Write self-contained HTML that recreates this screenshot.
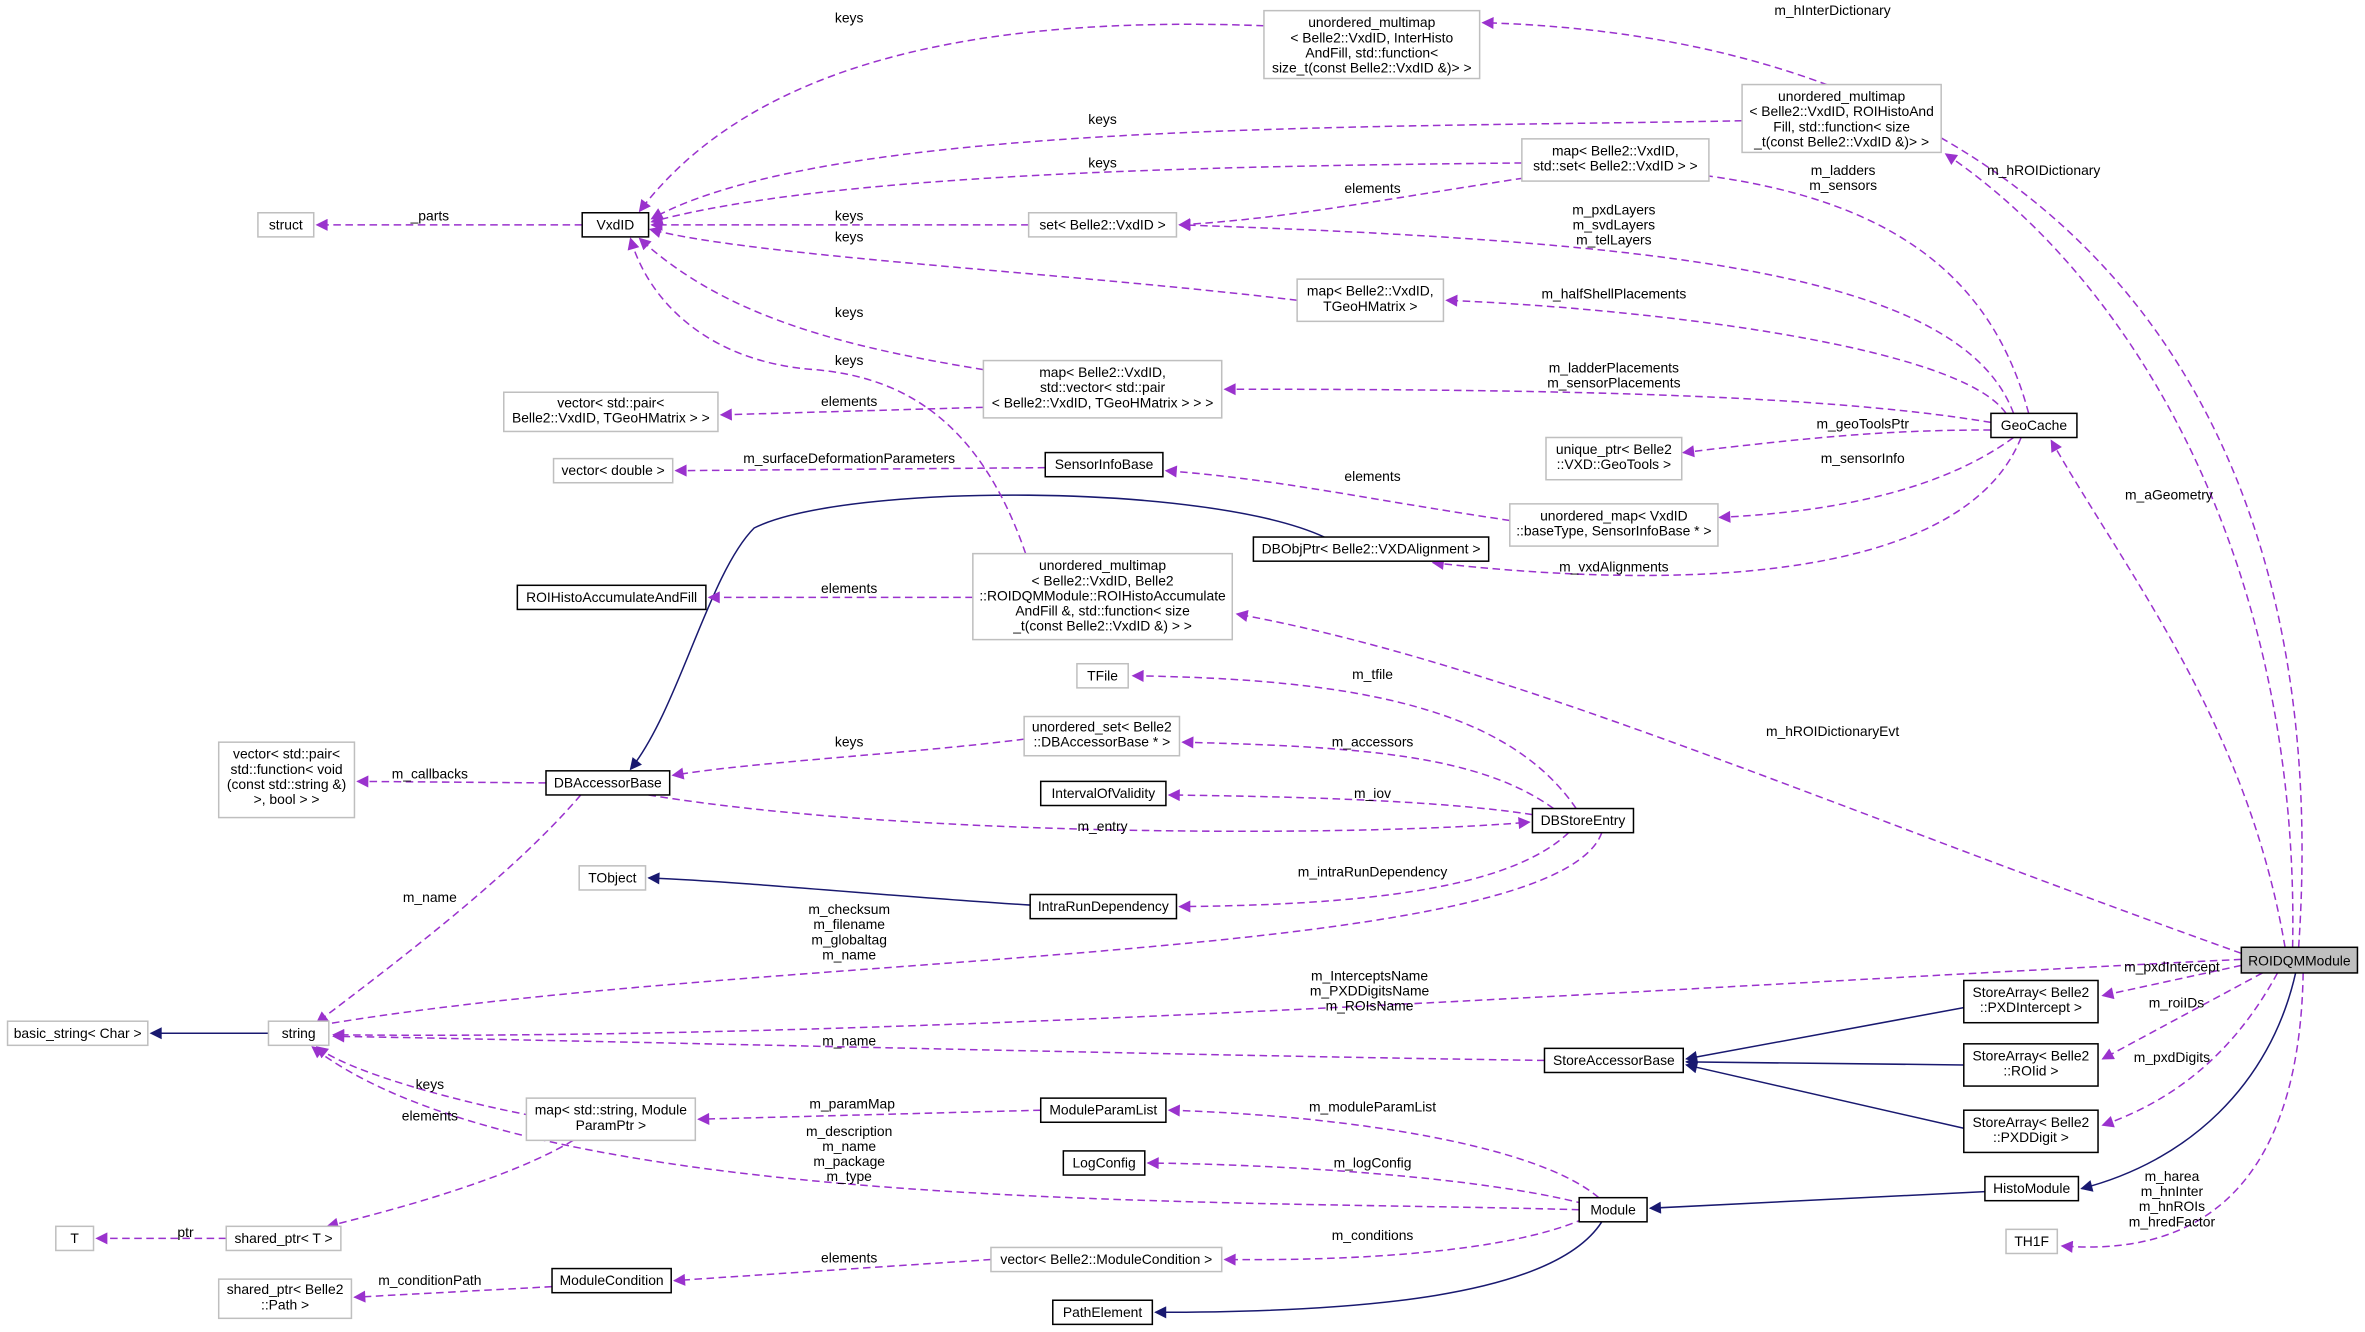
<!DOCTYPE html>
<html><head><meta charset="utf-8"><style>
html,body{margin:0;padding:0;background:#fff;}
svg{display:block;}
text{font-family:"Liberation Sans",sans-serif;font-size:9.2px;fill:#000;}
.n{fill:#fff;stroke:#000;stroke-width:1;}
.g{fill:#fff;stroke:#bfbfbf;stroke-width:1;}
.p{fill:none;stroke:#9a32cd;stroke-width:1;stroke-dasharray:5,3;marker-end:url(#ap);}
.b{fill:none;stroke:#191970;stroke-width:1;marker-end:url(#ab);}
</style></head><body>
<svg width="2365" height="1332" viewBox="0 0 1568 883" xmlns="http://www.w3.org/2000/svg">
<defs>
<marker id="ap" viewBox="0 0 10 10" refX="9" refY="5" markerWidth="9" markerHeight="8" markerUnits="userSpaceOnUse" orient="auto"><path d="M0,0 L10,5 L0,10 z" fill="#9a32cd"/></marker>
<marker id="ab" viewBox="0 0 10 10" refX="9" refY="5" markerWidth="9" markerHeight="8" markerUnits="userSpaceOnUse" orient="auto"><path d="M0,0 L10,5 L0,10 z" fill="#191970"/></marker>
</defs>

<!-- edges -->
<path class="p" d="M1524,628 C1550,250 1350,25 983,15"/>
<path class="p" d="M1520,628 C1525,380 1420,190 1290,102"/>
<path class="p" d="M1515,628 C1490,480 1410,380 1360,292"/>
<path class="p" d="M1486,632 C1200,530 1000,440 820,407"/>
<path class="p" d="M1486,640 L1394,660"/>
<path class="p" d="M1500,645 L1394,702"/>
<path class="p" d="M1510,645 C1480,700 1440,730 1394,746"/>
<path class="p" d="M1527,645 C1525,760 1480,835 1367,826"/>
<path class="p" d="M1486,636 C1100,655 600,690 221,686"/>
<path class="b" d="M1522,645 C1505,720 1450,770 1380,788"/>
<path class="b" d="M1316,790 L1094,801"/>
<path class="b" d="M1302,668 L1118,702"/>
<path class="b" d="M1302,706 L1118,704"/>
<path class="b" d="M1302,748 L1118,706"/>
<path class="p" d="M1024,703 C800,700 400,690 221,687"/>
<path class="b" d="M178,685 L100,685"/>
<path class="p" d="M1047,802 C800,795 350,805 207,694"/>
<path class="p" d="M1060,794 C1020,760 900,740 775,736"/>
<path class="p" d="M1050,798 C980,780 850,772 761,771"/>
<path class="p" d="M1050,808 C1000,830 900,836 812,835"/>
<path class="b" d="M1062,810 C1030,860 900,870 766,870"/>
<path class="p" d="M657,835 L447,849"/>
<path class="p" d="M366,853 L235,860"/>
<path class="p" d="M690,736 L463,742"/>
<path class="p" d="M360,741 C300,730 230,710 210,694"/>
<path class="p" d="M380,756 C340,780 270,800 217,813"/>
<path class="p" d="M150,821 L64,821"/>
<path class="p" d="M1062,552 C1030,640 500,630 210,680"/>
<path class="p" d="M1045,536 C1000,470 900,450 751,448"/>
<path class="p" d="M1030,536 C980,500 900,495 784,492"/>
<path class="p" d="M1016,540 C950,530 850,528 775,527"/>
<path class="p" d="M1040,552 C1000,590 900,600 782,601"/>
<path class="b" d="M683,600 C600,595 500,585 430,582"/>
<path class="p" d="M430,527 C600,555 900,555 1014,545"/>
<path class="p" d="M679,490 C600,500 500,505 446,514"/>
<path class="p" d="M362,519 L237,518"/>
<path class="p" d="M385,527 C340,580 260,640 210,678"/>
<path class="b" d="M878,356 C800,320 560,320 500,350 C470,380 450,470 418,510"/>
<path class="p" d="M1340,290 C1300,390 1100,390 950,373"/>
<path class="p" d="M1335,290 C1280,330 1200,340 1140,343"/>
<path class="p" d="M1320,285 C1250,285 1200,290 1116,300"/>
<path class="p" d="M1320,280 C1200,260 1000,258 812,258"/>
<path class="p" d="M1330,274 C1300,230 1100,205 959,199"/>
<path class="p" d="M1335,274 C1300,180 1100,160 782,149"/>
<path class="p" d="M1345,274 C1320,180 1250,130 1120,115"/>
<path class="p" d="M1001,345 C900,330 850,318 773,312"/>
<path class="p" d="M693,310 L448,312"/>
<path class="p" d="M652,270 L478,275"/>
<path class="p" d="M652,245 C560,230 480,210 424,158"/>
<path class="p" d="M680,367 C650,280 600,250 540,245 C470,240 430,200 418,158"/>
<path class="p" d="M645,396 L470,396"/>
<path class="p" d="M860,199 C700,180 500,170 431,152"/>
<path class="p" d="M682,149 L432,149"/>
<path class="p" d="M1009,108 C800,110 550,115 432,147"/>
<path class="p" d="M1010,118 C900,135 850,145 782,149"/>
<path class="p" d="M1155,80 C900,85 550,80 432,145"/>
<path class="p" d="M838,17 C650,10 500,40 424,140"/>
<path class="p" d="M386,149 L210,149"/>

<!-- edge labels -->
<g text-anchor="middle">
<text x="1215" y="10">m_hInterDictionary</text>
<text x="1355" y="116">m_hROIDictionary</text>
<text x="1438" y="331">m_aGeometry</text>
<text x="1215" y="488">m_hROIDictionaryEvt</text>
<text x="1440" y="644">m_pxdIntercept</text>
<text x="1443" y="668">m_roiIDs</text>
<text x="1440" y="704">m_pxdDigits</text>
<text x="1440" y="783">m_harea</text><text x="1440" y="793">m_hnInter</text><text x="1440" y="803">m_hnROIs</text><text x="1440" y="813">m_hredFactor</text>
<text x="908" y="650">m_InterceptsName</text><text x="908" y="660">m_PXDDigitsName</text><text x="908" y="670">m_ROIsName</text>
<text x="563" y="693">m_name</text>
<text x="563" y="753">m_description</text><text x="563" y="763">m_name</text><text x="563" y="773">m_package</text><text x="563" y="783">m_type</text>
<text x="910" y="737">m_moduleParamList</text>
<text x="910" y="774">m_logConfig</text>
<text x="910" y="822">m_conditions</text>
<text x="563" y="837">elements</text>
<text x="285" y="852">m_conditionPath</text>
<text x="565" y="735">m_paramMap</text>
<text x="285" y="722">keys</text>
<text x="285" y="743">elements</text>
<text x="123" y="820">ptr</text>
<text x="563" y="606">m_checksum</text><text x="563" y="616">m_filename</text><text x="563" y="626">m_globaltag</text><text x="563" y="636">m_name</text>
<text x="910" y="450">m_tfile</text>
<text x="910" y="495">m_accessors</text>
<text x="910" y="529">m_iov</text>
<text x="910" y="581">m_intraRunDependency</text>
<text x="731" y="551">m_entry</text>
<text x="563" y="495">keys</text>
<text x="285" y="516">m_callbacks</text>
<text x="285" y="598">m_name</text>
<text x="1070" y="379">m_vxdAlignments</text>
<text x="1235" y="307">m_sensorInfo</text>
<text x="1235" y="284">m_geoToolsPtr</text>
<text x="1070" y="247">m_ladderPlacements</text><text x="1070" y="257">m_sensorPlacements</text>
<text x="1070" y="198">m_halfShellPlacements</text>
<text x="1070" y="142">m_pxdLayers</text><text x="1070" y="152">m_svdLayers</text><text x="1070" y="162">m_telLayers</text>
<text x="1222" y="116">m_ladders</text><text x="1222" y="126">m_sensors</text>
<text x="910" y="319">elements</text>
<text x="563" y="307">m_surfaceDeformationParameters</text>
<text x="563" y="269">elements</text>
<text x="563" y="210">keys</text>
<text x="563" y="242">keys</text>
<text x="563" y="393">elements</text>
<text x="563" y="160">keys</text>
<text x="563" y="146">keys</text>
<text x="731" y="111">keys</text>
<text x="910" y="128">elements</text>
<text x="731" y="82">keys</text>
<text x="563" y="15">keys</text>
<text x="285" y="146">_parts</text>
</g>

<!-- nodes -->
<g text-anchor="middle">
<rect x="1486" y="628" width="77" height="17" fill="#bfbfbf" stroke="#000"/><text x="1524.5" y="640">ROIDQMModule</text>
<rect class="g" x="838" y="7" width="143" height="45"/><text x="909.5" y="18">unordered_multimap</text><text x="909.5" y="28">&lt; Belle2::VxdID, InterHisto</text><text x="909.5" y="38">AndFill, std::function&lt;</text><text x="909.5" y="48"> size_t(const Belle2::VxdID &amp;)&gt; &gt;</text>
<rect class="g" x="1155" y="56" width="132" height="45"/><text x="1221" y="67">unordered_multimap</text><text x="1221" y="77">&lt; Belle2::VxdID, ROIHistoAnd</text><text x="1221" y="87">Fill, std::function&lt; size</text><text x="1221" y="97">_t(const Belle2::VxdID &amp;)&gt; &gt;</text>
<rect class="g" x="171" y="141" width="37" height="16"/><text x="189.5" y="152">struct</text>
<rect class="n" x="386" y="141" width="44" height="16"/><text x="408" y="152">VxdID</text>
<rect class="g" x="1009" y="92" width="124" height="28"/><text x="1071" y="103">map&lt; Belle2::VxdID,</text><text x="1071" y="113">std::set&lt; Belle2::VxdID &gt; &gt;</text>
<rect class="g" x="682" y="141" width="98" height="16"/><text x="731" y="152">set&lt; Belle2::VxdID &gt;</text>
<rect class="g" x="860" y="185" width="97" height="28"/><text x="908.5" y="196">map&lt; Belle2::VxdID,</text><text x="908.5" y="206">TGeoHMatrix &gt;</text>
<rect class="g" x="652" y="239" width="158" height="38"/><text x="731" y="250">map&lt; Belle2::VxdID,</text><text x="731" y="260">std::vector&lt; std::pair</text><text x="731" y="270">&lt; Belle2::VxdID, TGeoHMatrix &gt; &gt; &gt;</text>
<rect class="g" x="334" y="260" width="142" height="26"/><text x="405" y="270">vector&lt; std::pair&lt;</text><text x="405" y="280">Belle2::VxdID, TGeoHMatrix &gt; &gt;</text>
<rect class="g" x="367" y="304" width="79" height="16"/><text x="406.5" y="315">vector&lt; double &gt;</text>
<rect class="n" x="693" y="300" width="78" height="16"/><text x="732" y="311">SensorInfoBase</text>
<rect class="n" x="1320" y="274" width="57" height="16"/><text x="1348.5" y="285">GeoCache</text>
<rect class="g" x="1025" y="290" width="90" height="28"/><text x="1070" y="301">unique_ptr&lt; Belle2</text><text x="1070" y="311">::VXD::GeoTools &gt;</text>
<rect class="g" x="1001" y="334" width="138" height="28"/><text x="1070" y="345">unordered_map&lt; VxdID</text><text x="1070" y="355">::baseType, SensorInfoBase * &gt;</text>
<rect class="n" x="831" y="356" width="156" height="16"/><text x="909" y="367">DBObjPtr&lt; Belle2::VXDAlignment &gt;</text>
<rect class="n" x="343" y="388" width="125" height="16"/><text x="405.5" y="399">ROIHistoAccumulateAndFill</text>
<rect class="g" x="645" y="367" width="172" height="57"/><text x="731" y="378">unordered_multimap</text><text x="731" y="388">&lt; Belle2::VxdID, Belle2</text><text x="731" y="398">::ROIDQMModule::ROIHistoAccumulate</text><text x="731" y="408">AndFill &amp;, std::function&lt; size</text><text x="731" y="418">_t(const Belle2::VxdID &amp;) &gt; &gt;</text>
<rect class="g" x="714" y="440" width="34" height="16"/><text x="731" y="451">TFile</text>
<rect class="g" x="679" y="475" width="103" height="26"/><text x="730.5" y="485">unordered_set&lt; Belle2</text><text x="730.5" y="495">::DBAccessorBase * &gt;</text>
<rect class="g" x="145" y="492" width="90" height="50"/><text x="190" y="503">vector&lt; std::pair&lt;</text><text x="190" y="513">std::function&lt; void</text><text x="190" y="523">(const std::string &amp;)</text><text x="190" y="533">&gt;, bool &gt; &gt;</text>
<rect class="n" x="362" y="511" width="82" height="16"/><text x="403" y="522">DBAccessorBase</text>
<rect class="n" x="690" y="518" width="83" height="16"/><text x="731.5" y="529">IntervalOfValidity</text>
<rect class="n" x="1016" y="536" width="67" height="16"/><text x="1049.5" y="547">DBStoreEntry</text>
<rect class="g" x="384" y="574" width="44" height="16"/><text x="406" y="585">TObject</text>
<rect class="n" x="683" y="593" width="97" height="16"/><text x="731.5" y="604">IntraRunDependency</text>
<rect class="g" x="5" y="677" width="93" height="16"/><text x="51.5" y="688">basic_string&lt; Char &gt;</text>
<rect class="g" x="178" y="677" width="40" height="16"/><text x="198" y="688">string</text>
<rect class="n" x="1302" y="650" width="89" height="28"/><text x="1346.5" y="661">StoreArray&lt; Belle2</text><text x="1346.5" y="671">::PXDIntercept &gt;</text>
<rect class="n" x="1024" y="695" width="92" height="16"/><text x="1070" y="706">StoreAccessorBase</text>
<rect class="n" x="1302" y="692" width="89" height="28"/><text x="1346.5" y="703">StoreArray&lt; Belle2</text><text x="1346.5" y="713">::ROIid &gt;</text>
<rect class="g" x="349" y="728" width="112" height="28"/><text x="405" y="739">map&lt; std::string, Module</text><text x="405" y="749">ParamPtr &gt;</text>
<rect class="n" x="690" y="728" width="83" height="16"/><text x="731.5" y="739">ModuleParamList</text>
<rect class="n" x="1302" y="736" width="89" height="28"/><text x="1346.5" y="747">StoreArray&lt; Belle2</text><text x="1346.5" y="757">::PXDDigit &gt;</text>
<rect class="n" x="705" y="763" width="54" height="16"/><text x="732" y="774">LogConfig</text>
<rect class="n" x="1316" y="780" width="62" height="16"/><text x="1347" y="791">HistoModule</text>
<rect class="n" x="1047" y="794" width="45" height="16"/><text x="1069.5" y="805">Module</text>
<rect class="g" x="37" y="813" width="25" height="16"/><text x="49.5" y="824">T</text>
<rect class="g" x="150" y="813" width="76" height="16"/><text x="188" y="824">shared_ptr&lt; T &gt;</text>
<rect class="g" x="1330" y="815" width="34" height="16"/><text x="1347" y="826">TH1F</text>
<rect class="g" x="145" y="848" width="88" height="26"/><text x="189" y="858">shared_ptr&lt; Belle2</text><text x="189" y="868">::Path &gt;</text>
<rect class="n" x="366" y="841" width="79" height="16"/><text x="405.5" y="852">ModuleCondition</text>
<rect class="g" x="657" y="827" width="153" height="16"/><text x="733.5" y="838">vector&lt; Belle2::ModuleCondition &gt;</text>
<rect class="n" x="698" y="862" width="66" height="16"/><text x="731" y="873">PathElement</text>
</g>
</svg>
</body></html>
